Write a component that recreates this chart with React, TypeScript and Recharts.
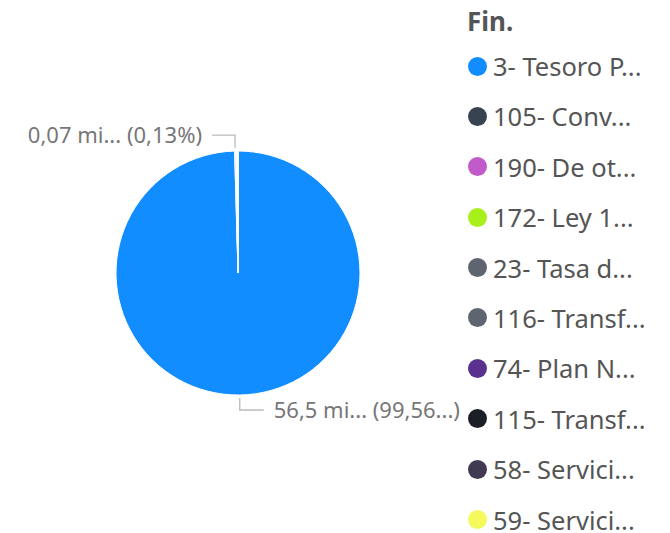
import React from 'react';
import { PieChart, Pie, Cell, Legend } from 'recharts';

const categories = [
  '3- Tesoro P...',
  '105- Conv...',
  '190- De ot...',
  '172- Ley 1...',
  '23- Tasa d...',
  '116- Transf...',
  '74- Plan N...',
  '115- Transf...',
  '58- Servici...',
  '59- Servici...',
];
const values = [56.5, 0.0738, 0.05, 0.04, 0.03, 0.02, 0.015, 0.01, 0.008, 0.005];
const colors = [
  '#118DFF', '#374350', '#C05BC9', '#A8F01A', '#5E6470',
  '#5E6470', '#5B3190', '#1B1E26', '#3F3A52', '#F5FA5C',
];
const valueLabels = ['56,5 mi...', '0,07 mi...'];
const percentLabels = ['(99,56...)', '(0,13%)'];
const legendTitle = 'Fin.';

const data = categories.map((name, i) => ({ name, value: values[i] }));

const FONT = '"Noto Sans", "Open Sans", sans-serif';
const RAD = Math.PI / 180;

const renderLabel = (props: any) => {
  const { cx, cy, midAngle, outerRadius, index } = props;
  if (index > 1) return null;
  const sx = cx + Math.cos(-midAngle * RAD) * (outerRadius + 3);
  const sy = cy + Math.sin(-midAngle * RAD) * (outerRadius + 3);
  const down = sy > cy;
  const ey = down ? sy + 12 : sy - 13;
  const ex = down ? sx + 24 : sx - 23;
  const tx = down ? ex + 10 : ex - 10;
  const text = `${valueLabels[index]} ${percentLabels[index]}`;
  return (
    <g key={`lbl-${index}`}>
      <polyline
        points={`${sx},${sy} ${sx},${ey} ${ex},${ey}`}
        fill="none"
        stroke="#BBBBBB"
        strokeWidth={1.3}
      />
      <text
        x={tx}
        y={ey}
        dy="0.35em"
        textAnchor={down ? 'start' : 'end'}
        fill="#777777"
        fontSize={22}
        fontFamily={FONT}
      >
        {text}
      </text>
    </g>
  );
};

const renderLegend = () => (
  <div style={{ fontFamily: FONT, color: '#555555' }}>
    <div style={{ fontWeight: 700, fontSize: 26, height: 40, lineHeight: '42px', paddingLeft: 0 }}>
      {legendTitle}
    </div>
    <div style={{ paddingTop: 13 }}>
      {categories.map((c, i) => (
        <div
          key={c}
          style={{
            height: 26,
            marginBottom: i === categories.length - 1 ? 0 : 24.4,
            display: 'flex',
            alignItems: 'center',
            whiteSpace: 'nowrap',
          }}
        >
          <span
            style={{
              display: 'inline-block',
              flex: '0 0 auto',
              width: 19,
              height: 19,
              borderRadius: 10,
              background: colors[i],
              marginLeft: 1,
              marginRight: 6,
            }}
          />
          <span style={{ display: 'block', fontSize: 25.5, lineHeight: '26px', height: 26 }}>{c}</span>
        </div>
      ))}
    </div>
  </div>
);

export default function App() {
  return (
    <div style={{ position: 'absolute', left: 0, top: 0, width: 670, height: 533, background: '#fff' }}>
      <PieChart width={670} height={533} margin={{ top: 0, right: 0, bottom: 0, left: 0 }}>
        <Pie
          data={data}
          dataKey="value"
          nameKey="name"
          cx={238}
          cy={273}
          outerRadius={122}
          startAngle={90}
          endAngle={-270}
          stroke="#FFFFFF"
          strokeWidth={1}
          labelLine={false}
          label={renderLabel}
          isAnimationActive={false}
        >
          {data.map((d, i) => (
            <Cell key={d.name} fill={colors[i]} />
          ))}
        </Pie>
        <Legend
          layout="vertical"
          align="right"
          verticalAlign="top"
          content={renderLegend}
          wrapperStyle={{ left: 467, top: 0, width: 203 }}
        />
      </PieChart>
    </div>
  );
}
